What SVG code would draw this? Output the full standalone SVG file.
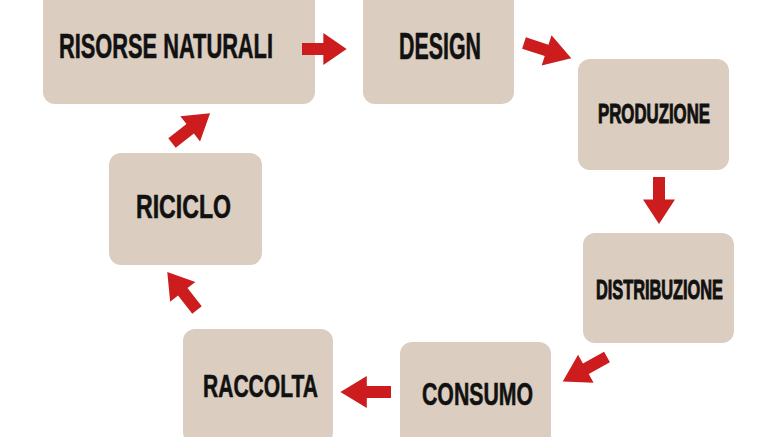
<svg xmlns="http://www.w3.org/2000/svg" width="777" height="437" viewBox="0 0 777 437">
<style>
.box{fill:#dbcdbf}
.lbl{font-family:"Liberation Sans","DejaVu Sans",Arial,sans-serif;font-weight:bold;fill:#111;stroke:#111;stroke-width:0.6}
.arr{fill:#cc1c1e}
</style>
<defs>
<path id="arrow" d="M0,-6 L22,-6 L22,-16 L46,0 L22,16 L22,6 L0,6 Z"/>
</defs>
<rect width="777" height="437" fill="#ffffff"/>
<g id="node-risorse">
<rect class="box" x="43" y="-12" width="272" height="116" rx="12"/>
<text class="lbl" x="59" y="58" font-size="35" textLength="214" lengthAdjust="spacingAndGlyphs">RISORSE NATURALI</text>
</g>
<g id="node-design">
<rect class="box" x="363" y="-12" width="151" height="116" rx="12"/>
<text class="lbl" x="399" y="59" font-size="36" textLength="82" lengthAdjust="spacingAndGlyphs">DESIGN</text>
</g>
<g id="node-produzione">
<rect class="box" x="578" y="59" width="151" height="111" rx="12"/>
<text class="lbl" transform="translate(598,123) scale(1,1.75)" x="0" y="0" font-size="16" stroke-width="0.4" textLength="112" lengthAdjust="spacingAndGlyphs">PRODUZIONE</text>
</g>
<g id="node-distribuzione">
<rect class="box" x="583" y="233" width="151" height="110" rx="12"/>
<text class="lbl" transform="translate(596,299) scale(1,1.7)" x="0" y="0" font-size="16" stroke-width="0.4" textLength="127" lengthAdjust="spacingAndGlyphs">DISTRIBUZIONE</text>
</g>
<g id="node-consumo">
<rect class="box" x="400" y="342" width="151" height="110" rx="12"/>
<text class="lbl" x="422" y="405" font-size="32" textLength="111" lengthAdjust="spacingAndGlyphs">CONSUMO</text>
</g>
<g id="node-raccolta">
<rect class="box" x="183" y="329" width="150" height="115" rx="12"/>
<text class="lbl" x="203" y="397" font-size="31" textLength="115" lengthAdjust="spacingAndGlyphs">RACCOLTA</text>
</g>
<g id="node-riciclo">
<rect class="box" x="109" y="153" width="153" height="112" rx="12"/>
<text class="lbl" x="136" y="218" font-size="33" textLength="95" lengthAdjust="spacingAndGlyphs">RICICLO</text>
</g>
<g id="connectors" class="arr">
<use href="#arrow" transform="translate(302,49) scale(0.97,1)"/>
<use href="#arrow" transform="translate(524,43) rotate(18) scale(1.08,1)"/>
<use href="#arrow" transform="translate(659,177) rotate(90) scale(1.02,1)"/>
<use href="#arrow" transform="translate(607,357) rotate(151) scale(1.1,1)"/>
<use href="#arrow" transform="translate(391,392) rotate(180) scale(1.1,1)"/>
<use href="#arrow" transform="translate(197,310) rotate(232) scale(1.05,1)"/>
<use href="#arrow" transform="translate(172,143) rotate(-38) scale(1.05,1)"/>
</g>
</svg>
